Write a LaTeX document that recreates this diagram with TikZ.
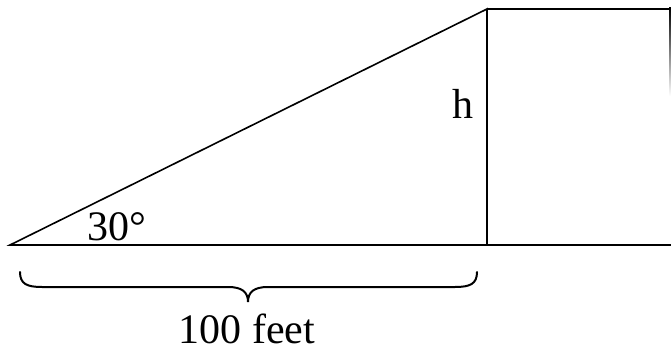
\documentclass[tikz,border=0pt]{standalone}
\usepackage{fontspec}
\setmainfont{Liberation Serif}
\begin{document}
\begin{tikzpicture}[x=1pt,y=-1pt,
  edge/.style={line width=1.6pt, line cap=round},
  lbl/.style={font=\fontsize{42}{48}\selectfont, inner sep=0pt, anchor=base}]
\useasboundingbox (0,0) rectangle (671,350);
\coordinate (A) at (10,245);
\coordinate (B) at (487,245);
\coordinate (C) at (487,9);
\coordinate (D) at (671,9);
\coordinate (E) at (671,245);
% triangle
\draw[edge, line join=miter] (A) -- (B) -- (C) -- cycle;
% building
\draw[line width=2pt] (C) -- (D);
\draw[line width=2pt] (B) -- (E);
\shade[top color=black, bottom color=white] (669,8) rectangle (671,96);
% labels
\node[lbl] (h) at (463,118) {h};
\node[lbl] (ang) at (117,240) {30°};
\node[lbl] (len) at (247,343) {100 feet};
% brace
\coordinate (bl) at (20,272);
\coordinate (bm) at (248,302);
\coordinate (br) at (477,272);
\draw[line width=2pt, line cap=round]
  (bl) .. controls (20,284) and (27,287) .. (42,287) -- (228,287)
  .. controls (242,287) and (248,292) .. (bm)
  .. controls (248,292) and (254,287) .. (268,287) -- (455,287)
  .. controls (470,287) and (477,284) .. (br);
\end{tikzpicture}
\end{document}
